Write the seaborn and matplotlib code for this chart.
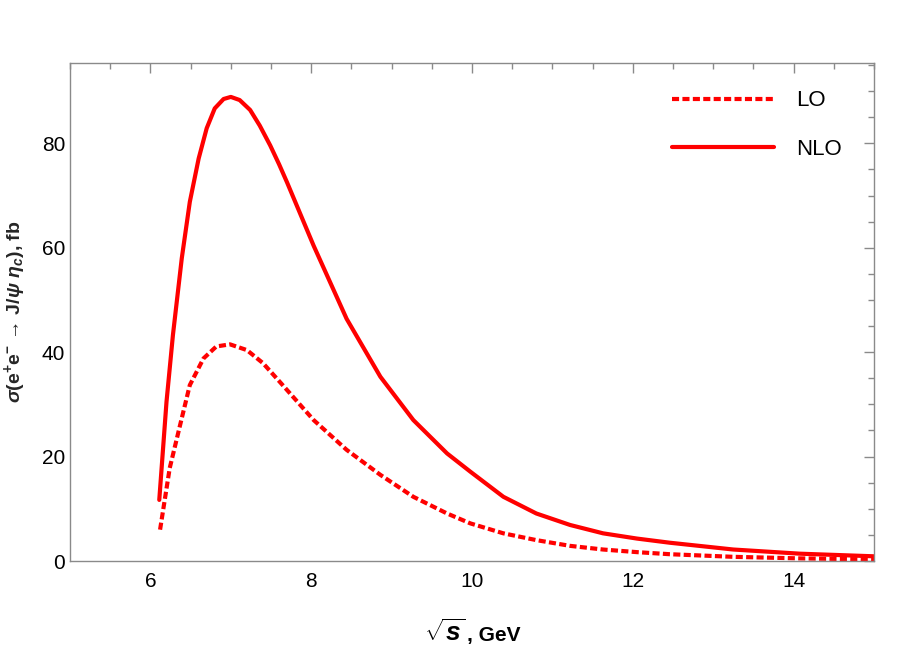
import numpy as np
import pandas as pd
import matplotlib
matplotlib.use("Agg")
import matplotlib.pyplot as plt
import seaborn as sns
from matplotlib.ticker import MultipleLocator

# values
sqrt_s_nlo = [6.11, 6.20, 6.28, 6.39, 6.49, 6.60, 6.70, 6.80, 6.91, 7.00, 7.11, 7.24,
              7.36, 7.49, 7.60, 7.70, 8.03, 8.44, 8.86, 9.27, 9.69, 9.98, 10.39,
              10.80, 11.22, 11.63, 12.05, 12.46, 13.25, 14.08, 15.0]
sigma_nlo = [11.7, 30.5, 43.3, 58.0, 68.8, 77.1, 82.9, 86.7, 88.5, 88.9, 88.3, 86.4,
             83.4, 79.6, 76.0, 72.5, 60.4, 46.4, 35.3, 27.0, 20.6, 17.1, 12.3,
             9.1, 6.9, 5.3, 4.3, 3.5, 2.2, 1.4, 0.9]

sqrt_s_lo = [6.12, 6.24, 6.37, 6.49, 6.66, 6.82, 6.99, 7.20, 7.40, 7.61, 8.03, 8.44,
             8.86, 9.27, 9.69, 9.98, 10.39, 10.80, 11.22, 11.63, 12.05, 12.46,
             13.25, 14.08, 15.0]
sigma_lo = [6.0, 17.8, 26.1, 33.7, 38.8, 41.1, 41.5, 40.4, 37.9, 34.3, 27.0, 21.3,
            16.5, 12.3, 9.1, 7.2, 5.3, 4.0, 2.9, 2.2, 1.7, 1.3,
            0.8, 0.5, 0.3]

sns.set_style("white")
plt.rcParams['font.family'] = ['Liberation Sans', 'DejaVu Sans']
plt.rcParams['text.color'] = 'black'
plt.rcParams['mathtext.fontset'] = 'custom'
plt.rcParams['mathtext.rm'] = 'Liberation Sans:bold'
plt.rcParams['mathtext.it'] = 'Liberation Sans:bold:italic'
plt.rcParams['mathtext.bf'] = 'Liberation Sans:bold'

df_lo = pd.DataFrame({'x': sqrt_s_lo, 'y': sigma_lo})
df_nlo = pd.DataFrame({'x': sqrt_s_nlo, 'y': sigma_nlo})

fig = plt.figure(figsize=(9.13, 6.54), dpi=100)
ax = fig.add_axes([0.0767, 0.1422, 0.8806, 0.7615])

sns.lineplot(data=df_lo, x='x', y='y', ax=ax, color='red', lw=3.0, label='LO')
ax.lines[-1].set_dashes((1.7, 0.8))
sns.lineplot(data=df_nlo, x='x', y='y', ax=ax, color='red', lw=3.0, label='NLO')

ax.set_xlim(5, 15)
ax.set_ylim(0, 95.4)
ax.xaxis.set_major_locator(MultipleLocator(2))
ax.xaxis.set_minor_locator(MultipleLocator(0.5))
ax.yaxis.set_major_locator(MultipleLocator(20))
ax.yaxis.set_minor_locator(MultipleLocator(5))

frame_col = '#8a8a8a'
for sp in ax.spines.values():
    sp.set_color(frame_col)
    sp.set_linewidth(1.0)
ax.tick_params(which='both', direction='in', top=True, right=True,
               color=frame_col, width=1.0, labelsize=15, labelcolor='black')
ax.tick_params(which='major', length=7)
ax.tick_params(which='minor', length=4.5)
ax.tick_params(axis='x', pad=8)

# x label: big radical, then ", GeV"
ax.set_xlabel('')
fig.text(465 / 913, 13 / 654, r'$\sqrt{s}$', fontsize=19, ha='right', va='baseline')
fig.text(467 / 913, 13 / 654, ', GeV', fontsize=15, fontweight='bold',
         ha='left', va='baseline')
ax.set_ylabel(r'$\sigma$(e$^{+}$e$^{-}$ → J/$\psi$ $\eta_{c}$), fb',
              fontsize=14, fontweight='bold', labelpad=10)

leg = ax.legend(loc='upper right', bbox_to_anchor=(0.985, 0.985), frameon=False,
                fontsize=16, handlelength=4.6, handletextpad=1.0, labelspacing=1.25)

fig.savefig('out.png', dpi=100)
